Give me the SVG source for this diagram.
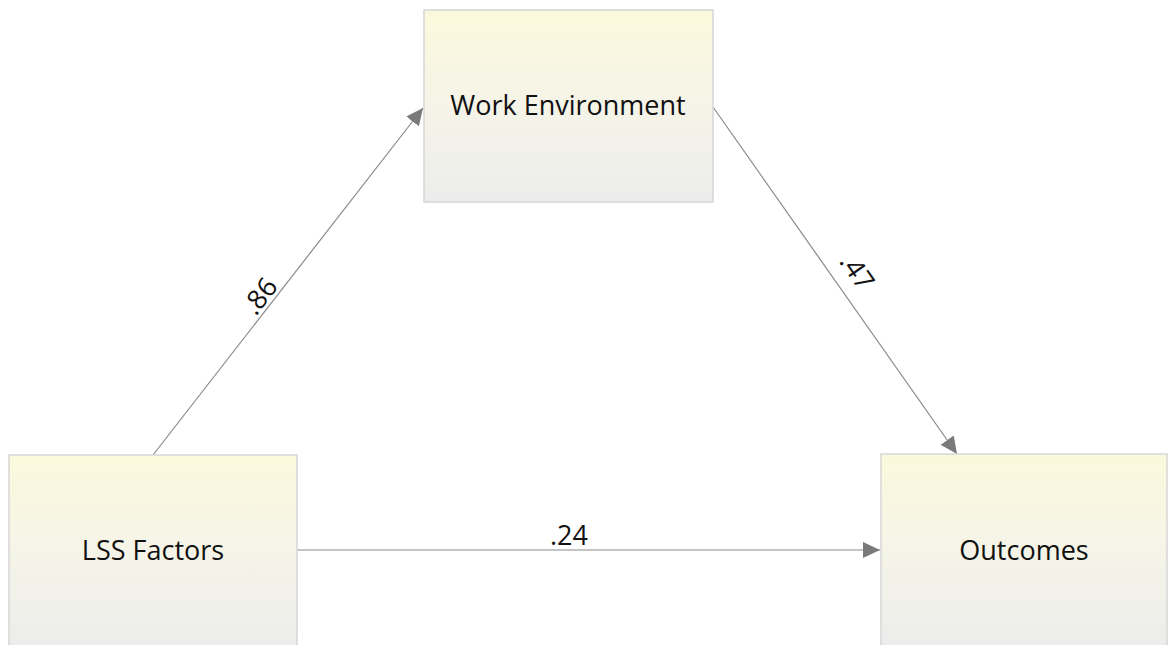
<svg xmlns="http://www.w3.org/2000/svg" width="1170" height="645" viewBox="0 0 1170 645">
<defs>
<linearGradient id="g" x1="0" y1="0" x2="0" y2="1">
<stop offset="0" stop-color="#fbf9dc"/>
<stop offset="0.5" stop-color="#f5f4e8"/>
<stop offset="1" stop-color="#ececec"/>
</linearGradient>
<marker id="arr" markerUnits="userSpaceOnUse" markerWidth="18" markerHeight="16" refX="17" refY="8" orient="auto">
<path d="M0,0 L17,8 L0,16 Z" fill="#7a7a7a"/>
</marker>
<style>
.box{fill:url(#g);stroke:#d6d6d6;stroke-width:1.5}
.t{font-family:"Open Sans","Liberation Sans",sans-serif;font-size:27px;fill:#111;text-anchor:middle}
.c{stroke:#8a8a8a;stroke-width:1.2;fill:none;marker-end:url(#arr)}
</style>
</defs>
<rect width="1170" height="645" fill="#fff"/>
<g id="connectors">
<line class="c" x1="153" y1="455" x2="423" y2="108"/>
<line class="c" x1="713" y1="107" x2="957" y2="454"/>
<line class="c" x1="297" y1="550" x2="880" y2="550"/>
<text class="t" transform="translate(270.5,304.3) rotate(-52)" y="-4">.86</text>
<text class="t" transform="translate(838,285) rotate(55)" y="-14">.47</text>
<text class="t" x="569" y="545">.24</text>
</g>
<g id="work-environment">
<rect class="box" x="424" y="10" width="289" height="192"/>
<text class="t" x="568" y="115">Work Environment</text>
</g>
<g id="lss-factors">
<rect class="box" x="9" y="455" width="288" height="194"/>
<text class="t" x="153" y="560">LSS Factors</text>
</g>
<g id="outcomes">
<rect class="box" x="881" y="454" width="286" height="195"/>
<text class="t" x="1024" y="560">Outcomes</text>
</g>
</svg>
